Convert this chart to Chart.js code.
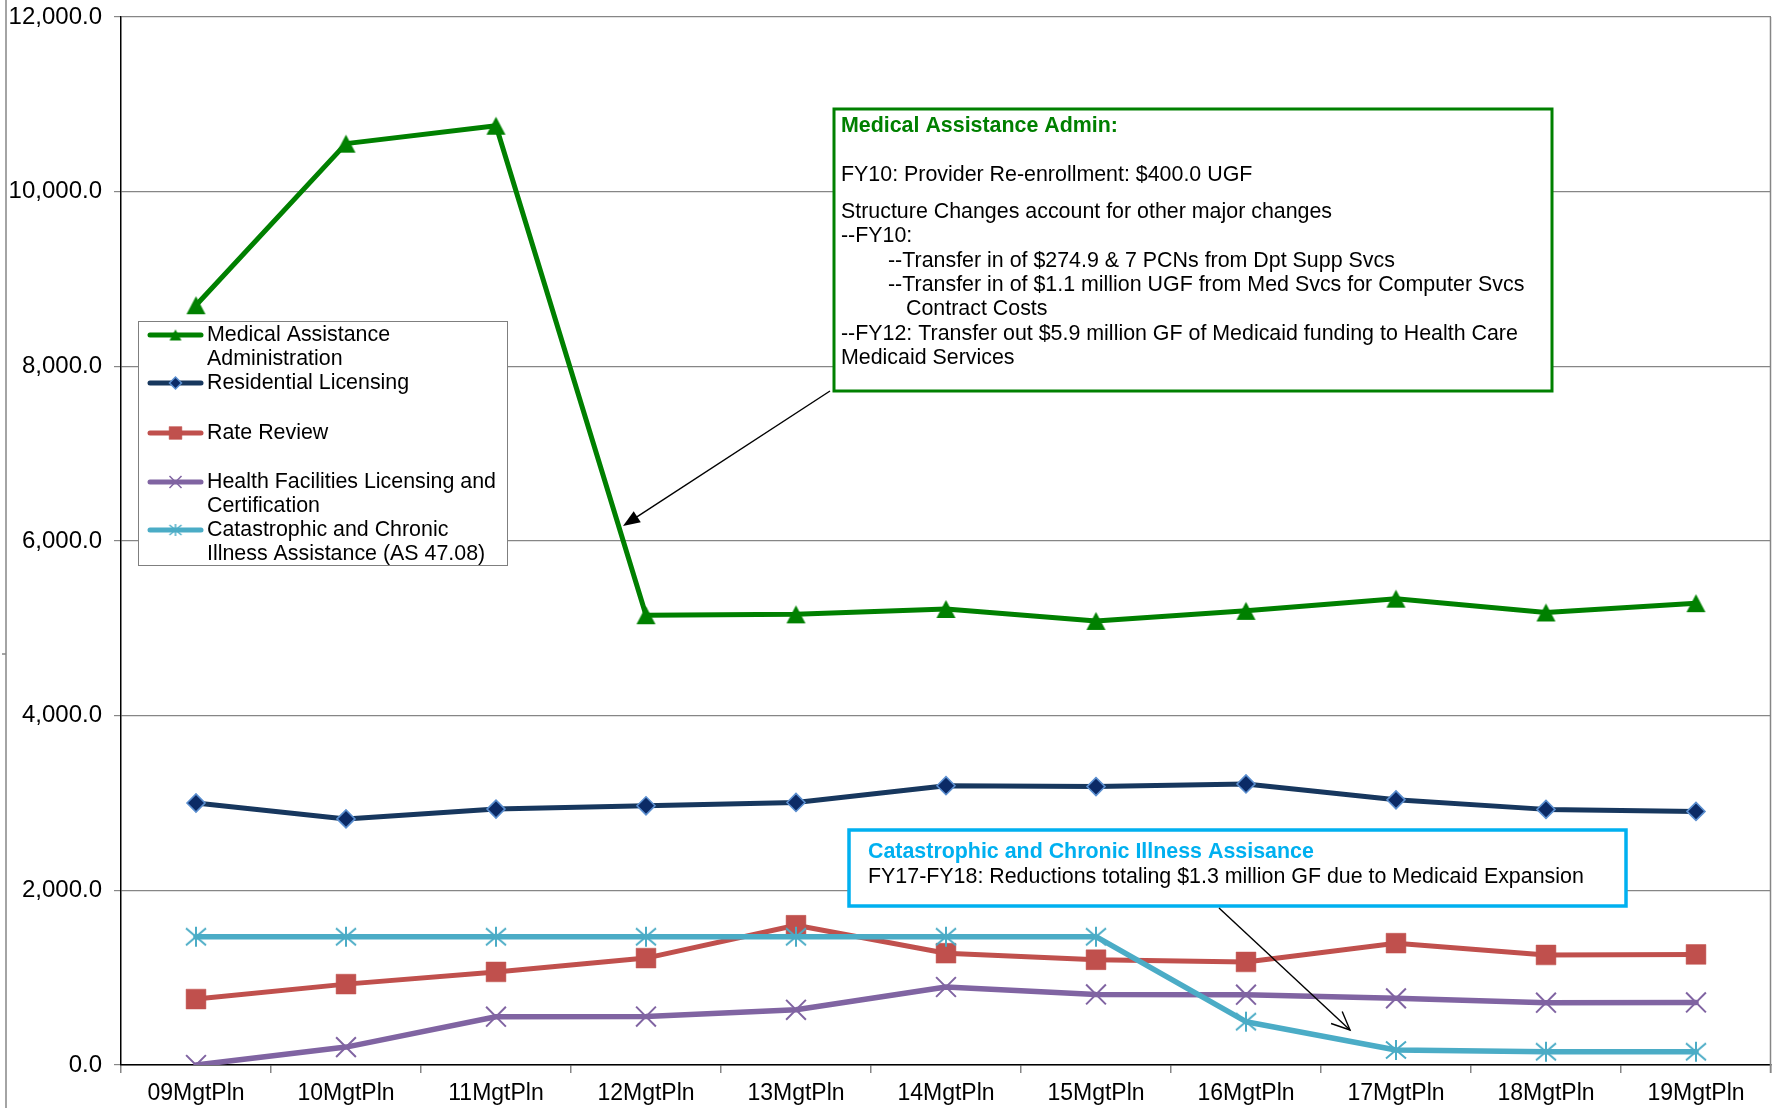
<!DOCTYPE html>
<html>
<head>
<meta charset="utf-8">
<title>Division budget by management plan</title>
<script src="https://cdn.jsdelivr.net/npm/chart.js@4.4.1/dist/chart.umd.min.js"></script>
<style>
  html, body { margin: 0; padding: 0; background: #ffffff; }
  #wrap { width: 1773px; height: 1108px; position: relative; }
</style>
</head>
<body>
<div id="wrap"><canvas id="chart" width="1773" height="1108"></canvas></div>
<script>
// ---- data ----
const categories = ['09MgtPln', '10MgtPln', '11MgtPln', '12MgtPln', '13MgtPln', '14MgtPln',
                    '15MgtPln', '16MgtPln', '17MgtPln', '18MgtPln', '19MgtPln'];

const medicalAssistanceAdmin = [8700, 10550, 10755, 5150, 5160, 5222, 5085, 5200, 5340, 5182, 5288];
const residentialLicensing   = [3000, 2818, 2930, 2968, 3006, 3198, 3188, 3218, 3036, 2927, 2904];
const rateReview             = [755, 926, 1066, 1224, 1600, 1280, 1205, 1180, 1395, 1260, 1266];
const healthFacilities       = [0, 205, 553, 555, 632, 893, 808, 805, 763, 713, 716];
const catastrophicIllness    = [1469, 1469, 1469, 1469, 1469, 1469, 1469, 496, 172, 152, 152];

const yTickValues = [0, 2000, 4000, 6000, 8000, 10000, 12000];

const seriesNames = [
  ['Medical Assistance', 'Administration'],
  ['Residential Licensing'],
  ['Rate Review'],
  ['Health Facilities Licensing and', 'Certification'],
  ['Catastrophic and Chronic', 'Illness Assistance (AS 47.08)']
];

const medicalNoteTitle = 'Medical Assistance Admin:';
const medicalNoteLines = [
  { text: 'FY10: Provider Re-enrollment: $400.0 UGF', indent: 0 },
  { text: 'Structure Changes account for other major changes', indent: 0 },
  { text: '--FY10:', indent: 0 },
  { text: '--Transfer in of $274.9 & 7 PCNs from Dpt Supp Svcs', indent: 1 },
  { text: '--Transfer in of $1.1 million UGF from Med Svcs for Computer Svcs', indent: 1 },
  { text: 'Contract Costs', indent: 2 },
  { text: '--FY12: Transfer out $5.9 million GF of Medicaid funding to Health Care', indent: 0 },
  { text: 'Medicaid Services', indent: 0 }
];
const catastrophicNoteTitle = 'Catastrophic and Chronic Illness Assisance';
const catastrophicNoteLine = 'FY17-FY18: Reductions totaling $1.3 million GF due to Medicaid Expansion';

// ---- styling ----
const FONT = '"Liberation Sans", Arial, Helvetica, sans-serif';
const TEXT_PX = 21.4;
const C_GREEN = '#008000';
const C_NAVY = '#17375E';
const C_NAVY_FILL = '#0B2A66';
const C_NAVY_EDGE = '#5B8FD0';
const C_RED = '#C0504D';
const C_PURPLE = '#8064A2';
const C_CYAN = '#4BACC6';
const C_NOTE_BLUE = '#00B0F0';
const C_GRID = '#868686';

// Excel-style asterisk marker: vertical bar plus an X
function makeAsterisk(size, half, dx, dy, color, lw) {
  const c = document.createElement('canvas');
  c.width = size; c.height = size;
  const g = c.getContext('2d');
  const m = size / 2;
  g.strokeStyle = color;
  g.lineWidth = lw;
  g.beginPath();
  g.moveTo(m, m - half); g.lineTo(m, m + half);
  g.moveTo(m - dx, m - dy); g.lineTo(m + dx, m + dy);
  g.moveTo(m + dx, m - dy); g.lineTo(m - dx, m + dy);
  g.stroke();
  return c;
}
// Triangle marker centred on its bounding box
function makeTriangle(w, h, color) {
  const c = document.createElement('canvas');
  c.width = Math.ceil(w) + 2; c.height = Math.ceil(h) + 2;
  const g = c.getContext('2d');
  const cx = c.width / 2, cy = c.height / 2;
  g.fillStyle = color;
  g.beginPath();
  g.moveTo(cx, cy - h / 2);
  g.lineTo(cx + w / 2, cy + h / 2);
  g.lineTo(cx - w / 2, cy + h / 2);
  g.closePath();
  g.fill();
  return c;
}
const asteriskBig = makeAsterisk(26, 10, 10, 8.5, C_CYAN, 2);
const asteriskSmall = makeAsterisk(16, 6, 6, 5, C_CYAN, 1.5);
const triangleBig = makeTriangle(19, 18, C_GREEN);
const triangleSmall = makeTriangle(12, 11, C_GREEN);

const seriesStyles = [
  { color: C_GREEN,  pointStyle: triangleBig, radius: 10, fill: C_GREEN,   edge: C_GREEN,     edgeW: 1,   width: 5 },
  { color: C_NAVY,   pointStyle: 'rectRot',  radius: 9,   fill: C_NAVY_FILL, edge: C_NAVY_EDGE, edgeW: 1.6, width: 5 },
  { color: C_RED,    pointStyle: 'rect',     radius: 14,  fill: C_RED,       edge: C_RED,       edgeW: 0.5, width: 5 },
  { color: C_PURPLE, pointStyle: 'crossRot', radius: 14,  fill: C_PURPLE,    edge: C_PURPLE,    edgeW: 2,   width: 5.5 },
  { color: C_CYAN,   pointStyle: asteriskBig, radius: 11, fill: C_CYAN,      edge: C_CYAN,      edgeW: 2,   width: 5.5 }
];
const seriesData = [medicalAssistanceAdmin, residentialLicensing, rateReview, healthFacilities, catastrophicIllness];

const datasets = seriesData.map((data, i) => {
  const s = seriesStyles[i];
  return {
    label: seriesNames[i].join(' '),
    data: data,
    borderColor: s.color,
    borderWidth: s.width,
    backgroundColor: s.fill,
    pointStyle: s.pointStyle,
    pointRadius: s.radius,
    pointHoverRadius: s.radius,
    pointBackgroundColor: s.fill,
    pointBorderColor: s.edge,
    pointBorderWidth: s.edgeW,
    tension: 0,
    fill: false,
    borderJoinStyle: 'round',
    borderCapStyle: 'round',
    order: seriesData.length - 1 - i   // later series drawn on top
  };
});

// ---- plot frame: right border and the outer left edge ----
const framePlugin = {
  id: 'frame',
  beforeDatasetsDraw(chart) {
    const { ctx, chartArea: a } = chart;
    ctx.save();
    ctx.strokeStyle = C_GRID;
    ctx.lineWidth = 1.5;
    ctx.beginPath();
    ctx.moveTo(a.right - 0.5, a.top);
    ctx.lineTo(a.right - 0.5, a.bottom + 8);
    ctx.stroke();
    ctx.beginPath();
    ctx.moveTo(6, 0);
    ctx.lineTo(6, chart.height);
    ctx.moveTo(2, 654);
    ctx.lineTo(6, 654);
    ctx.stroke();
    ctx.restore();
  }
};

function arrow(ctx, x1, y1, x2, y2, filled) {
  const ang = Math.atan2(y2 - y1, x2 - x1);
  ctx.beginPath();
  ctx.moveTo(x1, y1);
  if (filled) {
    ctx.lineTo(x2 - Math.cos(ang) * 12, y2 - Math.sin(ang) * 12);
  } else {
    ctx.lineTo(x2, y2);
  }
  ctx.stroke();
  if (filled) {
    const len = 17, hw = 6.5;
    const bx = x2 - Math.cos(ang) * len, by = y2 - Math.sin(ang) * len;
    ctx.beginPath();
    ctx.moveTo(x2, y2);
    ctx.lineTo(bx + Math.sin(ang) * hw, by - Math.cos(ang) * hw);
    ctx.lineTo(bx - Math.sin(ang) * hw, by + Math.cos(ang) * hw);
    ctx.closePath();
    ctx.fill();
  } else {
    const len = 20, spread = 0.42;
    ctx.beginPath();
    ctx.moveTo(x2 - Math.cos(ang - spread) * len, y2 - Math.sin(ang - spread) * len);
    ctx.lineTo(x2, y2);
    ctx.lineTo(x2 - Math.cos(ang + spread) * len, y2 - Math.sin(ang + spread) * len);
    ctx.stroke();
  }
}

// ---- legend box and notes, drawn above the series ----
const overlayPlugin = {
  id: 'overlay',
  afterDatasetsDraw(chart) {
    const ctx = chart.ctx;
    ctx.save();

    // legend
    const lg = { x: 138.5, y: 321.5, w: 369, h: 244 };
    ctx.fillStyle = '#ffffff';
    ctx.fillRect(lg.x, lg.y, lg.w, lg.h);
    ctx.strokeStyle = '#7f7f7f';
    ctx.lineWidth = 1;
    ctx.strokeRect(lg.x, lg.y, lg.w, lg.h);

    const rowY = [335, 383, 433, 482, 530];
    const legendMarkers = [
      { pointStyle: triangleSmall, radius: 6.5 },
      { pointStyle: 'rectRot', radius: 6 },
      { pointStyle: 'rect', radius: 9 },
      { pointStyle: 'crossRot', radius: 8.5 },
      { pointStyle: asteriskSmall, radius: 6 }
    ];
    ctx.font = TEXT_PX + 'px ' + FONT;
    ctx.textBaseline = 'middle';
    ctx.textAlign = 'left';
    seriesNames.forEach((lines, i) => {
      const s = seriesStyles[i];
      const y = rowY[i];
      ctx.strokeStyle = s.color;
      ctx.lineWidth = 5;
      ctx.lineCap = 'round';
      ctx.beginPath();
      ctx.moveTo(150, y);
      ctx.lineTo(201, y);
      ctx.stroke();
      ctx.lineCap = 'butt';
      ctx.fillStyle = s.fill;
      ctx.strokeStyle = s.edge;
      ctx.lineWidth = Math.min(s.edgeW, 1.5);
      Chart.helpers.drawPoint(ctx, {
        pointStyle: legendMarkers[i].pointStyle,
        radius: legendMarkers[i].radius,
        rotation: 0,
        borderWidth: Math.min(s.edgeW, 1.5)
      }, 175.5, y);
      ctx.fillStyle = '#000000';
      lines.forEach((t, k) => ctx.fillText(t, 207, y + k * 24));
    });

    // Medical Assistance note
    ctx.fillStyle = '#ffffff';
    ctx.fillRect(834, 109, 718, 282);
    ctx.strokeStyle = C_GREEN;
    ctx.lineWidth = 3;
    ctx.strokeRect(834, 109, 718, 282);
    ctx.fillStyle = C_GREEN;
    ctx.font = 'bold ' + TEXT_PX + 'px ' + FONT;
    ctx.fillText(medicalNoteTitle, 841, 126);
    ctx.fillStyle = '#000000';
    ctx.font = TEXT_PX + 'px ' + FONT;
    const noteY = [175, 212, 236, 261, 285, 309, 334, 358];
    const indentX = [841, 888, 906];
    medicalNoteLines.forEach((l, k) => ctx.fillText(l.text, indentX[l.indent], noteY[k]));

    // Catastrophic note
    ctx.fillStyle = '#ffffff';
    ctx.fillRect(849, 830, 777, 76);
    ctx.strokeStyle = C_NOTE_BLUE;
    ctx.lineWidth = 3.5;
    ctx.strokeRect(849, 830, 777, 76);
    ctx.fillStyle = C_NOTE_BLUE;
    ctx.font = 'bold ' + TEXT_PX + 'px ' + FONT;
    ctx.fillText(catastrophicNoteTitle, 868, 852);
    ctx.fillStyle = '#000000';
    ctx.font = TEXT_PX + 'px ' + FONT;
    ctx.fillText(catastrophicNoteLine, 868, 877);

    // arrows
    ctx.strokeStyle = '#000000';
    ctx.fillStyle = '#000000';
    ctx.lineWidth = 1.4;
    arrow(ctx, 830, 391, 623, 526, true);
    arrow(ctx, 1219, 908, 1350, 1030, false);

    ctx.restore();
  }
};

new Chart(document.getElementById('chart'), {
  type: 'line',
  data: { labels: categories, datasets: datasets },
  options: {
    responsive: false,
    animation: false,
    devicePixelRatio: 1,
    layout: { autoPadding: false, padding: { top: 17, right: 2, left: 0, bottom: 0 } },
    plugins: { legend: { display: false }, tooltip: { enabled: false } },
    events: [],
    scales: {
      x: {
        type: 'category',
        offset: true,
        grid: { offset: true, drawOnChartArea: false, drawTicks: true, tickLength: 8, color: C_GRID, lineWidth: 1.5 },
        border: { display: true, color: '#000000', width: 1.5 },
        ticks: { color: '#000000', font: { family: FONT, size: 23 }, maxRotation: 0, minRotation: 0, autoSkip: false, padding: 7 },
        afterFit(s) { s.height = 43; s.paddingLeft = 0; s.paddingRight = 0; }
      },
      y: {
        min: yTickValues[0],
        max: yTickValues[yTickValues.length - 1],
        afterBuildTicks(s) { s.ticks = yTickValues.map(v => ({ value: v })); },
        grid: { color: C_GRID, lineWidth: 1.2, tickLength: 7, drawTicks: true },
        border: { display: true, color: '#000000', width: 1.5 },
        ticks: {
          color: '#000000',
          font: { family: FONT, size: 24 },
          padding: 12,
          callback: v => Number(v).toLocaleString('en-US', { minimumFractionDigits: 1, maximumFractionDigits: 1 })
        },
        afterFit(s) { s.width = 121; s.paddingTop = 0; s.paddingBottom = 0; }
      }
    }
  },
  plugins: [framePlugin, overlayPlugin]
});
</script>
</body>
</html>
